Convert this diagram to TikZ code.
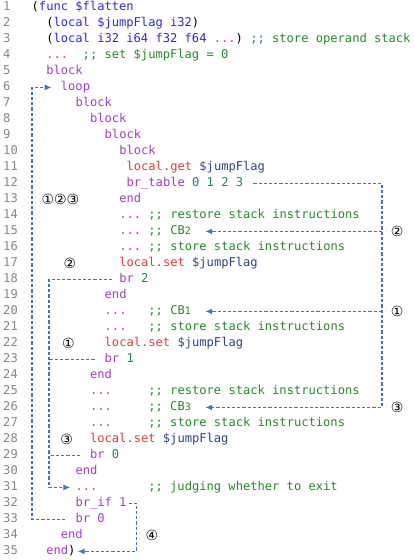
\documentclass[tikz,border=0pt]{standalone}
\usepackage{fontspec}
\setmonofont{DejaVu Sans Mono}
\newfontfamily\circfont{DejaVu Sans}
\definecolor{wasmblue}{HTML}{2A2AD4}
\definecolor{wasmpurple}{HTML}{A23CC8}
\definecolor{wasmred}{HTML}{DE3B3B}
\definecolor{wasmnavy}{HTML}{2B3F8F}
\definecolor{wasmteal}{HTML}{12876A}
\definecolor{wasmgreen}{HTML}{228B22}
\definecolor{wasmgray}{HTML}{858585}
\definecolor{wasmflow}{HTML}{4472C4}
\usetikzlibrary{arrows.meta,positioning}

\newcommand{\kwb}[1]{\textcolor{wasmblue}{#1}}
\newcommand{\kwp}[1]{\textcolor{wasmpurple}{#1}}
\newcommand{\kwr}[1]{\textcolor{wasmred}{#1}}
\newcommand{\kwn}[1]{\textcolor{wasmnavy}{#1}}
\newcommand{\kwt}[1]{\textcolor{wasmteal}{#1}}
\newcommand{\cmt}[1]{\textcolor{wasmgreen}{#1}}
\newcommand{\cbn}[1]{{\fontsize{10}{10}\selectfont #1}}

\begin{document}
\begin{tikzpicture}[
    x=7.3pt, y=-16pt, shift={(31.5pt,8.6pt)},
    code/.style={anchor=west, inner sep=0pt, text height=8pt, text depth=1pt,
                 font=\ttfamily\fontsize{12.1}{14}\selectfont\frenchspacing},
    lineno/.style={code, text=wasmgray},
    circnum/.style={inner sep=0pt, font=\circfont\fontsize{14}{14}\selectfont},
    flow/.style={wasmflow, line width=1.2pt, dash pattern=on 3.2pt off 2pt,
                 -{Latex[length=7pt,width=6pt]}},
    rung/.style={flow, -}
]
\useasboundingbox (-4.315,0.5375) rectangle (52.534,35.5375);

% ── Line numbers ──
\foreach \n in {1,...,35}
    \node[lineno] (n\n) at (-3.9,\n) {\n};

% ── Code ──
\node[code] (c1)  at (0,1)  {(\kwb{func \$flatten}};
\node[code] (c2)  at (2,2)  {(\kwb{local \$jumpFlag i32})};
\node[code] (c3)  at (2,3)  {(\kwb{local i32 i64 f32 f64} \kwr{...}) \cmt{;; store operand stack}};
\node[code] (c4)  at (2,4)  {\kwr{...}\ \ \cmt{;; set \$jumpFlag = 0}};
\node[code] (c5)  at (2,5)  {\kwp{block}};
\node[code] (c6)  at (4,6)  {\kwp{loop}};
\node[code] (c7)  at (6,7)  {\kwp{block}};
\node[code] (c8)  at (8,8)  {\kwp{block}};
\node[code] (c9)  at (10,9) {\kwp{block}};
\node[code] (c10) at (12,10) {\kwp{block}};
\node[code] (c11) at (13,11) {\kwr{local.get} \kwn{\$jumpFlag}};
\node[code] (c12) at (13,12) {\kwp{br\_table} \kwt{0 1 2 3}};
\node[code] (c13) at (12,13) {\kwp{end}};
\node[code] (c14) at (12,14) {\kwr{...} \cmt{;; restore stack instructions}};
\node[code] (c15) at (12,15) {\kwr{...} \cmt{;; CB\cbn{2}}};
\node[code] (c16) at (12,16) {\kwr{...} \cmt{;; store stack instructions}};
\node[code] (c17) at (12,17) {\kwr{local.set} \kwn{\$jumpFlag}};
\node[code] (c18) at (12,18) {\kwp{br} \kwt{2}};
\node[code] (c19) at (10,19) {\kwp{end}};
\node[code] (c20) at (10,20) {\kwr{...}\ \ \ \cmt{;; CB\cbn{1}}};
\node[code] (c21) at (10,21) {\kwr{...}\ \ \ \cmt{;; store stack instructions}};
\node[code] (c22) at (10,22) {\kwr{local.set} \kwn{\$jumpFlag}};
\node[code] (c23) at (10,23) {\kwp{br} \kwt{1}};
\node[code] (c24) at (8,24) {\kwp{end}};
\node[code] (c25) at (8,25) {\kwr{...}\ \ \ \ \ \cmt{;; restore stack instructions}};
\node[code] (c26) at (8,26) {\kwr{...}\ \ \ \ \ \cmt{;; CB\cbn{3}}};
\node[code] (c27) at (8,27) {\kwr{...}\ \ \ \ \ \cmt{;; store stack instructions}};
\node[code] (c28) at (8,28) {\kwr{local.set} \kwn{\$jumpFlag}};
\node[code] (c29) at (8,29) {\kwp{br} \kwt{0}};
\node[code] (c30) at (6,30) {\kwp{end}};
\node[code] (c31) at (6,31) {\kwr{...}\ \ \ \ \ \ \ \cmt{;; judging whether to exit}};
\node[code] (c32) at (6,32) {\kwp{br\_if 1}};
\node[code] (c33) at (6,33) {\kwp{br 0}};
\node[code] (c34) at (4,34) {\kwp{end}};
\node[code] (c35) at (2,35) {\kwp{end})};

% ── Rails ──
\coordinate (lrail) at (0.07,0);
\coordinate (mrail) at (2.4,0);
\coordinate (brail) at (14.4,0);
\coordinate (rrail) at (48,0);
\coordinate (cbtip) at (23.8,0);

% ── br_table targets ──
\draw[flow] ([xshift=10pt]c12.east) -| (rrail |- c26.west) -- (cbtip |- c26.west);
\draw[flow] (rrail |- c15.west) -- (cbtip |- c15.west);
\draw[flow] (rrail |- c20.west) -- (cbtip |- c20.west);

% ── br 2 / br 1 / br 0 ──
\draw[flow] ([xshift=-7pt]c18.west) -| (mrail |- c31.west) -- ([xshift=-5pt]c31.west);
\draw[rung] ([xshift=-10pt]c23.west) -- (mrail |- c23.west);
\draw[rung] ([xshift=-10pt]c29.west) -- (mrail |- c29.west);

% ── Loop back and exit ──
\draw[flow] ([xshift=-10pt]c33.west) -| (lrail |- c6.west) -- ([xshift=-9pt]c6.west);
\draw[flow] ([xshift=2pt]c32.east) -| (brail |- c35.west) -- ([xshift=2pt]c35.east);

% ── Case marks ──
\node[circnum] (tag123) at (3.97,13) {①②③};
\node[circnum] (tagl2)  at (5.27,17) {②};
\node[circnum] (tagl1)  at (5.07,22) {①};
\node[circnum] (tagl3)  at (4.8,28)  {③};
\node[circnum] (tagr2)  at (50.1,15) {②};
\node[circnum] (tagr1)  at (50.1,20) {①};
\node[circnum] (tagr3)  at (50.1,26) {③};
\node[circnum] (tag4)   at (16.5,34) {④};

\end{tikzpicture}
\end{document}
